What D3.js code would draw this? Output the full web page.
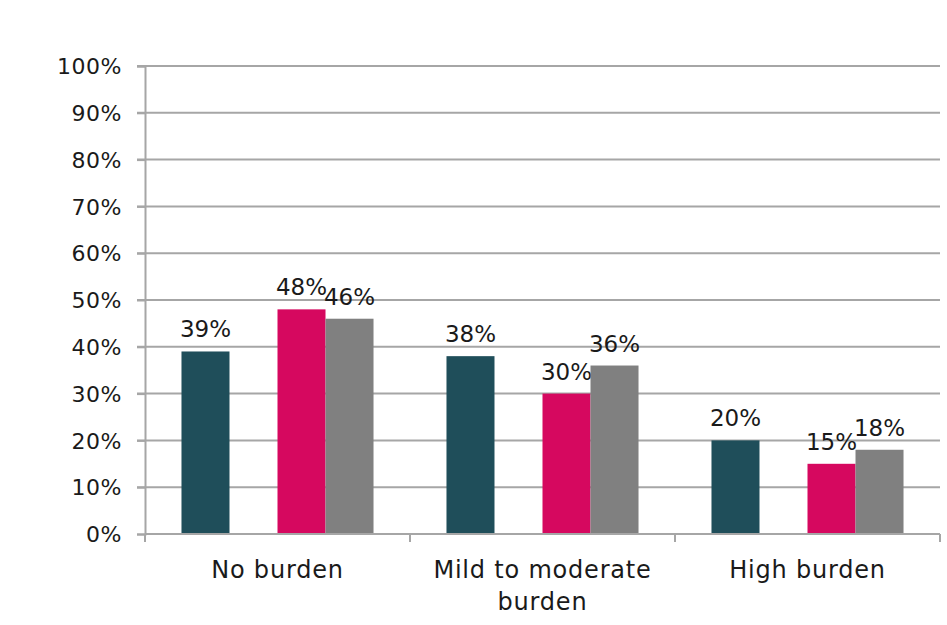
<!DOCTYPE html>
<html><head><meta charset="utf-8">
<script src="https://cdn.jsdelivr.net/npm/d3@7"></script>
<style>
html,body{margin:0;padding:0;background:#fff;}
text{font-family:"DejaVu Sans",sans-serif;fill:#1a1a1a;}
</style></head>
<body>
<svg id="chart" width="947" height="625"></svg>
<script>
const categories = ["No burden", "Mild to moderate burden", "High burden"];
const categoryLines = [["No burden"], ["Mild to moderate", "burden"], ["High burden"]];
const seriesKeys = ["s1", "s2", "s3", "s4"];
const seriesColors = ["#1f4e5a", "none", "#d6085f", "#808080"];
const s1 = [0.39, 0.38, 0.20];
const s2 = [null, null, null];
const s3 = [0.48, 0.30, 0.15];
const s4 = [0.46, 0.36, 0.18];
const yTicks = [0, 0.1, 0.2, 0.3, 0.4, 0.5, 0.6, 0.7, 0.8, 0.9, 1.0];

(function () {
const seriesValues = [s1, s2, s3, s4];
const svg = d3.select("#chart");
const mLeft = 145, mRight = 940, mTop = 66, mBottom = 534;

const x0 = d3.scaleBand().domain(categories).range([mLeft, mRight]).padding(0);
const x1 = d3.scaleBand().domain(seriesKeys).range([0, x0.bandwidth()]).paddingInner(0).paddingOuter(0.76);
const y = d3.scaleLinear().domain([0, 1]).range([mBottom, mTop]);
const fmt = d3.format(".0%");

// gridlines
svg.append("g").selectAll("line").data(yTicks.filter(d => d > 0)).join("line")
  .attr("x1", mLeft - 8).attr("x2", mRight)
  .attr("y1", d => y(d)).attr("y2", d => y(d))
  .attr("stroke", "#a6a6a6").attr("stroke-width", 2);

// y axis
const yAxis = svg.append("g").attr("transform", `translate(${mLeft},0)`)
  .call(d3.axisLeft(y).tickValues(yTicks).tickFormat(fmt).tickSize(8).tickPadding(15));
yAxis.select(".domain").attr("stroke", "#a6a6a6").attr("stroke-width", 2);
yAxis.selectAll(".tick line").attr("stroke", "#a6a6a6").attr("stroke-width", 2);
yAxis.selectAll(".tick text").attr("font-size", 22).attr("fill", "#1a1a1a")
  .attr("font-family", "DejaVu Sans").attr("letter-spacing", 0.5).attr("dy", "0.35em");

// bars
const groups = svg.append("g").selectAll("g").data(categories).join("g")
  .attr("transform", d => `translate(${x0(d)},0)`);
groups.each(function(cat, ci) {
  const g = d3.select(this);
  seriesKeys.forEach((k, si) => {
    const v = seriesValues[si][ci];
    if (v == null) return;
    g.append("rect").attr("x", x1(k)).attr("width", x1.bandwidth())
      .attr("y", y(v)).attr("height", y(0) - y(v)).attr("fill", seriesColors[si]);
    g.append("text").attr("x", x1(k) + x1.bandwidth() / 2).attr("y", y(v) - 14)
      .attr("text-anchor", "middle").attr("font-size", 23).text(fmt(v));
  });
});

// x axis
svg.append("line").attr("x1", mLeft).attr("x2", mRight).attr("y1", mBottom).attr("y2", mBottom)
  .attr("stroke", "#a6a6a6").attr("stroke-width", 2);
const bounds = categories.map(c => x0(c)).concat([mRight]);
svg.append("g").selectAll("line").data(bounds).join("line")
  .attr("x1", d => d).attr("x2", d => d).attr("y1", mBottom).attr("y2", mBottom + 8)
  .attr("stroke", "#a6a6a6").attr("stroke-width", 2);

// category labels
categories.forEach((c, i) => {
  const t = svg.append("text").attr("text-anchor", "middle").attr("font-size", 24)
    .attr("letter-spacing", 0.8)
    .attr("x", x0(c) + x0.bandwidth() / 2).attr("y", 578);
  categoryLines[i].forEach((line, li) => {
    t.append("tspan").attr("x", x0(c) + x0.bandwidth() / 2).attr("dy", li === 0 ? 0 : 32).text(line);
  });
});
})();
</script>
</body></html>
